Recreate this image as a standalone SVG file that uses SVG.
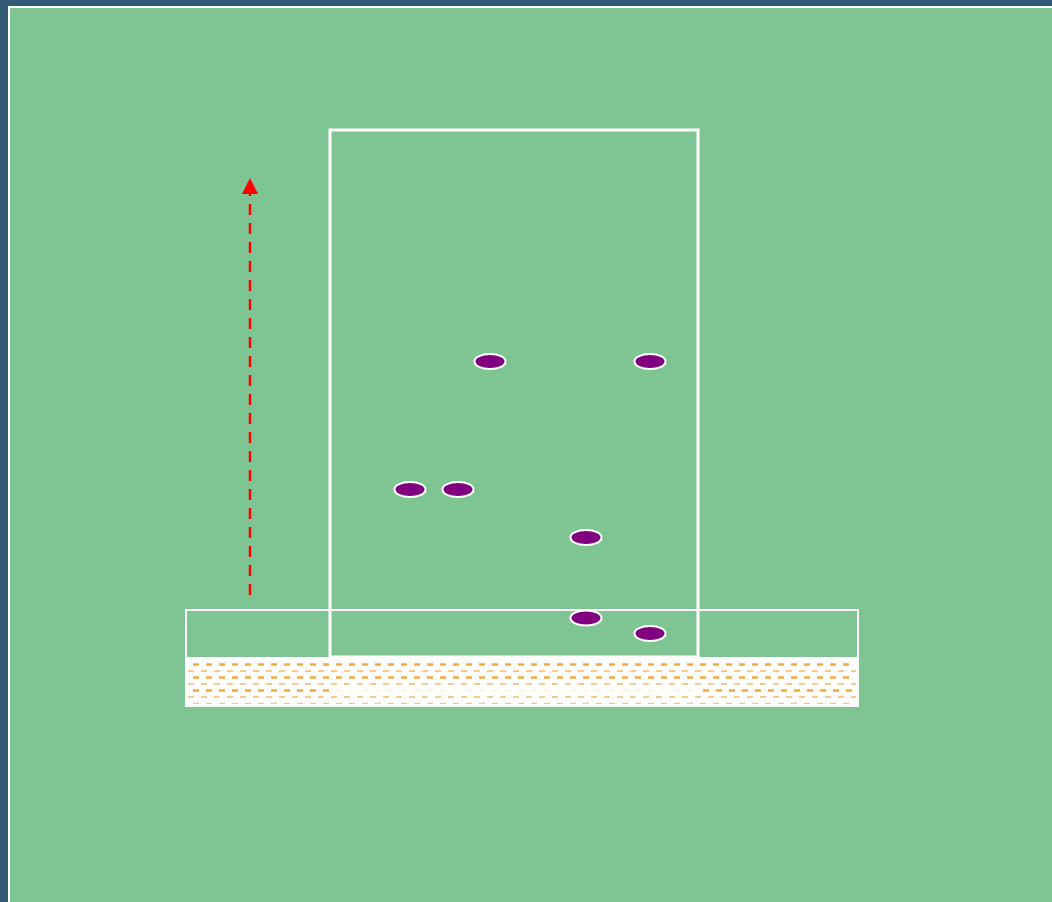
<svg xmlns="http://www.w3.org/2000/svg" width="1052" height="902" viewBox="0 0 1052 902">
  <defs>
    <style>
      .outline { fill: none; stroke: #ffffff; stroke-width: 3; }
      .thin { fill: none; stroke: #ffffff; stroke-width: 2; }
      .dot { fill: #800080; stroke: #ffffff; stroke-width: 2; }
      .thick { stroke: #F4A93C; stroke-width: 2.4; stroke-dasharray: 6 7; }
      .light { stroke: #F5BA66; stroke-width: 1.3; stroke-dasharray: 6 7; }
    </style>
    <marker id="arrowhead" markerWidth="16" markerHeight="16" refX="0" refY="8" orient="auto" markerUnits="userSpaceOnUse" viewBox="0 0 16 16">
      <path d="M0,0 L16,8 L0,16 Z" fill="#ff0000"/>
    </marker>
  </defs>
  <rect x="0" y="0" width="1052" height="902" fill="#335A74"/>
  <rect x="8" y="6" width="1044" height="896" fill="#ffffff"/>
  <rect x="10" y="8" width="1042" height="894" fill="#7EC593"/>

  <g id="ground">
    <rect x="185" y="657" width="674" height="50" fill="#ffffff"/>
    <line class="thick" x1="193" y1="664.5" x2="856" y2="664.5"/>
    <line class="light" x1="188" y1="671" x2="856" y2="671"/>
    <line class="thick" x1="193" y1="677.5" x2="856" y2="677.5"/>
    <line class="light" x1="188" y1="684" x2="856" y2="684"/>
    <line class="thick" x1="193" y1="690.5" x2="330" y2="690.5"/>
    <line class="thick" x1="193" y1="690.5" x2="856" y2="690.5" opacity="0.12"/>
    <line class="thick" x1="700" y1="690.5" x2="856" y2="690.5" stroke-dashoffset="-3"/>
    <line class="light" x1="188" y1="697" x2="856" y2="697"/>
    <line class="light" x1="193" y1="703.3" x2="856" y2="703.3" opacity="0.8"/>
  </g>

  <g id="base">
    <rect class="thin" x="186" y="610" width="672" height="96"/>
  </g>

  <g id="column">
    <rect class="outline" x="330" y="130" width="368" height="527"/>
  </g>

  <g id="connectors">
    <line x1="250" y1="595" x2="250" y2="194" stroke="#ff0000" stroke-width="2.5" stroke-dasharray="11 8" marker-end="url(#arrowhead)"/>
  </g>

  <g id="p1"><ellipse class="dot" cx="490" cy="361.5" rx="15.5" ry="7.5"/></g>
  <g id="p2"><ellipse class="dot" cx="650" cy="361.5" rx="15.5" ry="7.5"/></g>
  <g id="p3"><ellipse class="dot" cx="410" cy="489.5" rx="15.5" ry="7.5"/></g>
  <g id="p4"><ellipse class="dot" cx="458" cy="489.5" rx="15.5" ry="7.5"/></g>
  <g id="p5"><ellipse class="dot" cx="586" cy="537.5" rx="15.5" ry="7.5"/></g>
  <g id="p6"><ellipse class="dot" cx="586" cy="618" rx="15.5" ry="7.5"/></g>
  <g id="p7"><ellipse class="dot" cx="650" cy="633.5" rx="15.5" ry="7.5"/></g>
</svg>
